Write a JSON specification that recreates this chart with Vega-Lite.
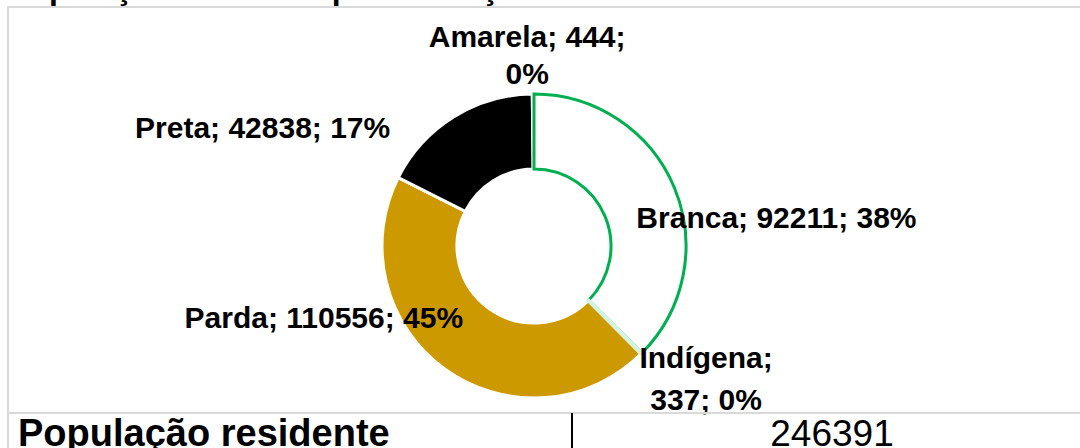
{
  "$schema": "https://vega.github.io/schema/vega-lite/v6.json",
  "padding": {"left": 7, "right": 0, "top": -27, "bottom": 0},
  "bounds": "flush",
  "title": {
    "text": "População de Macaé por cor/raça",
    "anchor": "start",
    "frame": "group",
    "font": "Liberation Sans",
    "fontSize": 32,
    "fontWeight": "bold",
    "color": "#000000",
    "offset": 0
  },
  "spacing": 0,
  "config": {
    "view": {"stroke": "#d9d9d9", "strokeWidth": 2},
    "text": {"font": "Liberation Sans", "color": "#000000"}
  },
  "vconcat": [
    {
      "width": 1076,
      "height": 406,
      "view": {"stroke": "#d9d9d9", "strokeWidth": 2},
      "data": {
        "values": [
          {"cor": "Branca", "valor": 92211, "ordem": 1, "rotulo": "Branca; 92211; 38%"},
          {"cor": "Indígena", "valor": 337, "ordem": 2, "rotulo": "Indígena;\n337; 0%"},
          {"cor": "Parda", "valor": 110556, "ordem": 3, "rotulo": "Parda; 110556; 45%"},
          {"cor": "Preta", "valor": 42838, "ordem": 4, "rotulo": "Preta; 42838; 17%"},
          {"cor": "Amarela", "valor": 444, "ordem": 5, "rotulo": "Amarela; 444;\n0%"}
        ]
      },
      "encoding": {
        "theta": {"field": "valor", "type": "quantitative", "stack": true},
        "order": {"field": "ordem", "type": "quantitative"}
      },
      "layer": [
        {
          "mark": {"type": "arc", "outerRadius": 152, "innerRadius": 77, "xOffset": -12, "yOffset": 36, "stroke": "#ffffff", "strokeWidth": 3},
          "encoding": {
            "color": {
              "field": "cor",
              "type": "nominal",
              "scale": {"domain": ["Branca", "Indígena", "Parda", "Preta", "Amarela"], "range": ["#ffffff", "#ffffff", "#cc9900", "#000000", "#ffffff"]},
              "legend": null
            }
          }
        },
        {
          "mark": {"type": "arc", "outerRadius": 152, "innerRadius": 77, "xOffset": -12, "yOffset": 36, "fillOpacity": 0, "fill": "#ffffff", "strokeWidth": 3},
          "encoding": {
            "stroke": {
              "condition": [
                {"test": "datum.cor == 'Branca'", "value": "#00b050"},
                {"test": "datum.cor == 'Indígena'", "value": "#d6f2e0"}
              ],
              "value": "transparent"
            }
          }
        },
        {
          "mark": {"type": "text", "radius": 150, "xOffset": -12, "yOffset": 36, "dx": 104, "dy": 31, "fontSize": 30, "fontWeight": "bold", "align": "center", "baseline": "middle", "lineBreak": "\n"},
          "encoding": {"text": {"condition": {"test": "datum.cor == 'Branca'", "field": "rotulo"}, "value": ""}}
        },
        {
          "mark": {"type": "text", "radius": 150, "xOffset": -12, "yOffset": 36, "dx": 66, "dy": 7, "fontSize": 30, "fontWeight": "bold", "align": "center", "baseline": "middle", "lineBreak": "\n", "lineHeight": 42},
          "encoding": {"text": {"condition": {"test": "datum.cor == 'Indígena'", "field": "rotulo"}, "value": ""}}
        },
        {
          "mark": {"type": "text", "radius": 150, "xOffset": -12, "yOffset": 36, "dx": -122, "dy": -48, "fontSize": 30, "fontWeight": "bold", "align": "center", "baseline": "middle", "lineBreak": "\n"},
          "encoding": {"text": {"condition": {"test": "datum.cor == 'Parda'", "field": "rotulo"}, "value": ""}}
        },
        {
          "mark": {"type": "text", "radius": 150, "xOffset": -12, "yOffset": 36, "dx": -192, "dy": 10, "fontSize": 30, "fontWeight": "bold", "align": "center", "baseline": "middle", "lineBreak": "\n"},
          "encoding": {"text": {"condition": {"test": "datum.cor == 'Preta'", "field": "rotulo"}, "value": ""}}
        },
        {
          "mark": {"type": "text", "radius": 150, "xOffset": -12, "yOffset": 36, "dx": -6, "dy": -58, "fontSize": 30, "fontWeight": "bold", "align": "center", "baseline": "middle", "lineBreak": "\n", "lineHeight": 37},
          "encoding": {"text": {"condition": {"test": "datum.cor == 'Amarela'", "field": "rotulo"}, "value": ""}}
        }
      ]
    },
    {
      "width": 1128,
      "height": 36,
      "data": {
        "values": [
          {"coluna": "a", "texto": "População residente"},
          {"coluna": "b", "texto": "246391"}
        ]
      },
      "layer": [
        {
          "transform": [{"filter": "datum.coluna == 'b'"}],
          "mark": {"type": "rule", "color": "#000000", "strokeWidth": 2},
          "encoding": {
            "x": {"field": "coluna", "type": "nominal", "bandPosition": 0, "axis": null, "scale": {"domain": ["a", "b"], "paddingInner": 0, "paddingOuter": 0}}
          }
        },
        {
          "transform": [{"filter": "datum.coluna == 'a'"}],
          "mark": {"type": "text", "align": "left", "baseline": "alphabetic", "dx": 10, "dy": 15, "fontSize": 38, "fontWeight": "bold"},
          "encoding": {
            "x": {"field": "coluna", "type": "nominal", "bandPosition": 0, "axis": null, "scale": {"domain": ["a", "b"], "paddingInner": 0, "paddingOuter": 0}},
            "text": {"field": "texto", "type": "nominal"}
          }
        },
        {
          "transform": [{"filter": "datum.coluna == 'b'"}],
          "mark": {"type": "text", "align": "center", "baseline": "alphabetic", "dx": -22, "dy": 15, "fontSize": 37, "fontWeight": "normal"},
          "encoding": {
            "x": {"field": "coluna", "type": "nominal", "bandPosition": 0.5, "axis": null, "scale": {"domain": ["a", "b"], "paddingInner": 0, "paddingOuter": 0}},
            "text": {"field": "texto", "type": "nominal"}
          }
        }
      ]
    }
  ]
}
